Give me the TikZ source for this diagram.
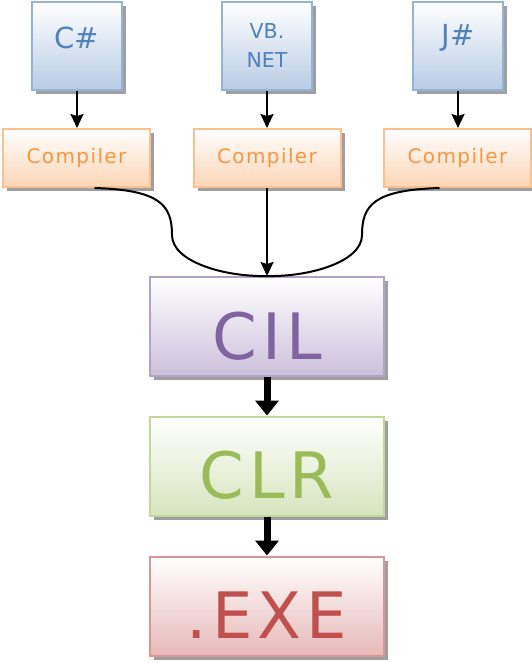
\documentclass[tikz,border=0pt]{standalone}
\usepackage{fontspec}
\setmainfont{DejaVu Sans}
\newfontfamily\wide[LetterSpace=7]{DejaVu Sans}
\newfontfamily\wider[LetterSpace=8]{DejaVu Sans}
\newcommand\shifttext[2]{\raisebox{#1}[\height][\depth]{#2}}
\usetikzlibrary{shadows,arrows.meta}
\definecolor{blueB}{RGB}{149,179,215}
\definecolor{blueF}{RGB}{184,204,228}
\definecolor{blueT}{RGB}{79,129,189}
\definecolor{orB}{RGB}{250,192,144}
\definecolor{orF}{RGB}{252,213,180}
\definecolor{orT}{RGB}{247,150,70}
\definecolor{puB}{RGB}{179,162,199}
\definecolor{puF}{RGB}{204,192,218}
\definecolor{puT}{RGB}{128,100,162}
\definecolor{grB}{RGB}{195,214,155}
\definecolor{grF}{RGB}{215,228,189}
\definecolor{grT}{RGB}{155,187,89}
\definecolor{reB}{RGB}{217,150,148}
\definecolor{reF}{RGB}{230,185,184}
\definecolor{reT}{RGB}{192,80,77}
\tikzset{
  box/.style={rectangle, inner sep=0pt, line width=2pt,
    drop shadow={shadow xshift=4pt, shadow yshift=-4pt, fill=gray!75, opacity=1}},
  langbox/.style={box, draw=blueB, top color=white, bottom color=blueF, text=blueT,
    minimum width=90pt, minimum height=88pt},
  compbox/.style={box, draw=orB, top color=white, bottom color=orF, text=orT,
    minimum width=147pt, minimum height=58pt, font=\wide\fontsize{20}{24}\selectfont},
  bigbox/.style={box, minimum width=234pt, minimum height=99pt, font=\wider\fontsize{64}{68}\selectfont},
  thin/.style={line width=2pt, -{Stealth[length=14pt,width=13pt,inset=2pt]}},
  thick/.style={line width=7pt, -{Triangle[length=15pt,width=23pt]}},
  curve/.style={line width=2pt},
}
\begin{document}
\begin{tikzpicture}[x=1pt,y=-1pt]
\useasboundingbox (0,0) rectangle (532,663);
\node[langbox, font=\fontsize{29}{32}\selectfont] (cs) at (77,46) {\shifttext{8pt}{C\#}};
\node[langbox, font=\fontsize{20.5}{29}\selectfont, align=center] (vb) at (267,46) {VB.\\NET};
\node[langbox, font=\fontsize{29}{32}\selectfont] (js) at (458,46) {\shifttext{8pt}{J\#}};
\node[compbox] (c1) at (76.5,158) {Compiler};
\node[compbox] (c2) at (267,158) {Compiler};
\node[compbox] (c3) at (457.5,158) {Compiler};
\node[bigbox, draw=puB, top color=white, bottom color=puF, text=puT] (cil) at (267,326.5) {\shifttext{-9.5pt}{CIL}};
\node[bigbox, draw=grB, top color=white, bottom color=grF, text=grT] (clr) at (267,466) {\shifttext{-9.5pt}{CLR}};
\node[bigbox, draw=reB, top color=white, bottom color=reF, text=reT] (exe) at (267,606) {\shifttext{-9.5pt}{.EXE}};
\draw[thin] (cs.south) -- (cs.south |- c1.north);
\draw[thin] (vb.south) -- (vb.south |- c2.north);
\draw[thin] (js.south) -- (js.south |- c3.north);
\draw[thin] (c2.south) -- (cil.north);
\draw[curve] ([xshift=18pt]c1.south) .. controls (160,190) and (172,205) .. (172,235)
   .. controls (172,262) and (225,277) .. (cil.north);
\draw[curve] ([xshift=-18pt]c3.south) .. controls (374,190) and (362,205) .. (362,235)
   .. controls (362,262) and (309,277) .. (cil.north);
\draw[thick] (cil.south) -- (clr.north);
\draw[thick] (clr.south) -- (exe.north);
\end{tikzpicture}
\end{document}
